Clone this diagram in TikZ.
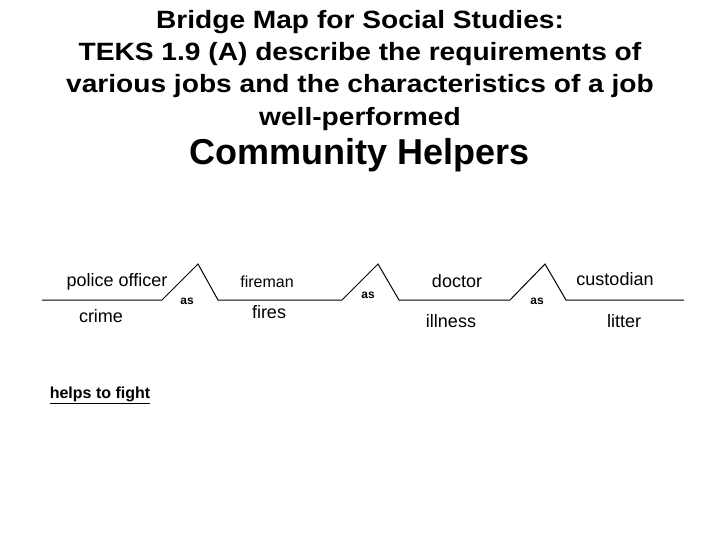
\documentclass[tikz,border=0pt]{standalone}
\usepackage{fontspec}
\setmainfont{Liberation Sans}
\newfontfamily\titlefont[FakeStretch=1.125]{Liberation Sans}
\begin{document}
\begin{tikzpicture}[x=0.75pt,y=-0.75pt,
  lbl/.style={inner sep=0pt,anchor=base,font=\fontsize{13.5pt}{16pt}\selectfont},
  lblthin/.style={inner sep=0pt,anchor=base,font=\fontsize{12pt}{14pt}\selectfont},
  asl/.style={inner sep=0pt,anchor=base,font=\bfseries\fontsize{9pt}{11pt}\selectfont},
  bridge/.style={draw=black,line width=0.75pt,line join=miter}]
\useasboundingbox (0,0) rectangle (720,540);
\node[inner sep=0pt,anchor=base,align=center,font=\titlefont\bfseries\fontsize{18.75pt}{24.2pt}\selectfont] (title) at (360,125)
  {Bridge Map for Social Studies:\\TEKS 1.9 (A) describe the requirements of\\various jobs and the characteristics of a job\\well-performed};
\node[inner sep=0pt,anchor=base,font=\bfseries\fontsize{27pt}{30pt}\selectfont] (topic) at (360,164) {Community Helpers};
% bridge coordinates
\coordinate (p0) at (42,300);
\coordinate (p1) at (162,300);
\coordinate (t1) at (198,264);
\coordinate (p2) at (218,300);
\coordinate (p3) at (342,300);
\coordinate (t2) at (378,264);
\coordinate (p4) at (399,300);
\coordinate (p5) at (510,300);
\coordinate (t3) at (545,264);
\coordinate (p6) at (566,300);
\coordinate (p7) at (684,300);
\draw[bridge] (p0) -- (p1) -- (t1) -- (p2) -- (p3) -- (t2) -- (p4) -- (p5) -- (t3) -- (p6) -- (p7);
% labels
\node[lbl] (a1) at (117,286) {police officer};
\node[lbl] (b1) at (101,322) {crime};
\node[lblthin] (a2) at (267,287) {fireman};
\node[lbl] (b2) at (269,318) {fires};
\node[lbl] (a3) at (457,287) {doctor};
\node[lbl] (b3) at (451,327) {illness};
\node[lbl] (a4) at (615,285) {custodian};
\node[lbl] (b4) at (624,327) {litter};
\node[asl] (as1) at (187,304) {as};
\node[asl] (as2) at (368,298) {as};
\node[asl] (as3) at (537,304) {as};
\node[inner sep=0pt,anchor=base,font=\bfseries\fontsize{12pt}{14pt}\selectfont] (rel) at (100,398) {\underline{helps to fight}};
\end{tikzpicture}
\end{document}
